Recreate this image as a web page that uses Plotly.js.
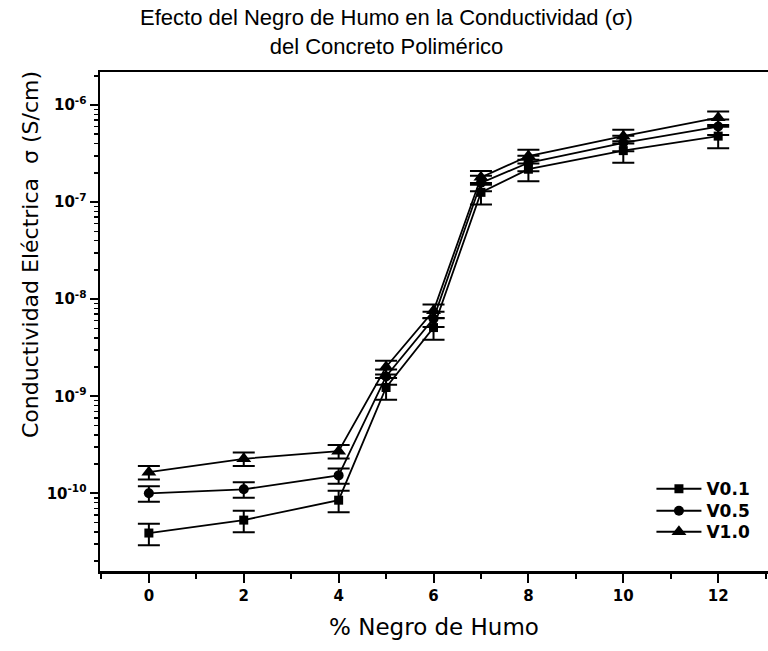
<!DOCTYPE html>
<html>
<head>
<meta charset="utf-8">
<script src="https://cdn.plot.ly/plotly-3.0.1.min.js"></script>
<style>html,body{margin:0;padding:0;background:#fff}#chart{width:768px;height:651px}</style>
</head>
<body>
<div id="chart"></div>
<script>
// % Negro de Humo
const negroHumo = [0, 2, 4, 5, 6, 7, 8, 10, 12];
// Conductividad (S/cm)
const v01 = [3.9e-11, 5.3e-11, 8.5e-11, 1.23e-9, 5.1e-9, 1.26e-7, 2.18e-7, 3.39e-7, 4.78e-7];
const v05 = [1.0e-10, 1.1e-10, 1.53e-10, 1.6e-9, 6.3e-9, 1.58e-7, 2.54e-7, 4.08e-7, 6.0e-7];
const v10 = [1.65e-10, 2.27e-10, 2.72e-10, 2.0e-9, 7.6e-9, 1.8e-7, 2.98e-7, 4.78e-7, 7.4e-7];
// error (% of value)
const errPct = [25, 18, 16];
const seriesNames = ['V0.1', 'V0.5', 'V1.0'];
const yTickVals = [1e-10, 1e-9, 1e-8, 1e-7, 1e-6];
const yTickText = ['10<sup>-10</sup>', '10<sup>-9</sup>', '10<sup>-8</sup>', '10<sup>-7</sup>', '10<sup>-6</sup>'];

const symbols = ['square', 'circle', 'triangle-up'];
const sizes = [9, 10, 13];
const legendIds = ['legend', 'legend2', 'legend3'];
const ys = [v01, v05, v10];

const traces = ys.map((y, i) => ({
  x: negroHumo, y: y, name: seriesNames[i], type: 'scatter', mode: 'lines+markers',
  legend: legendIds[i],
  line: {color: '#000', width: 1.8},
  marker: {symbol: symbols[i], size: sizes[i], color: '#000'},
  error_y: {type: 'percent', value: errPct[i], color: '#000', thickness: 2, width: 11}
}));

const font = 'DejaVu Sans, Verdana, sans-serif';
const lfont = {size: 17, family: font, color: '#000', weight: 'bold'};
const mkLegend = (yy) => ({x: 0.8255, xanchor: 'left', y: yy, yanchor: 'top', bgcolor: 'rgba(0,0,0,0)',
  font: lfont, itemwidth: 45});
const layout = {
  width: 768, height: 651,
  margin: {l: 100, r: 0, t: 72, b: 80},
  paper_bgcolor: '#fff', plot_bgcolor: '#fff',
  font: {family: font, color: '#000'},
  showlegend: true,
  legend: mkLegend(0.2),
  legend2: mkLegend(0.2 - 22 / 499),
  legend3: mkLegend(0.2 - 43 / 499),
  xaxis: {
    range: [-1.03, 13.05], showgrid: false, zeroline: false,
    showline: true, linecolor: '#000', linewidth: 2.5, mirror: true,
    ticks: 'outside', ticklen: 9, tickwidth: 2, tickcolor: '#000',
    tick0: 0, dtick: 2,
    minor: {ticks: 'outside', ticklen: 5, tickwidth: 2, tickcolor: '#000', dtick: 1, showgrid: false},
    tickfont: {size: 15, family: font, color: '#000', weight: 'bold'},
    title: {text: '% Negro de Humo', font: {size: 23, family: font, color: '#000'}, standoff: 16}
  },
  yaxis: {
    type: 'log', range: [-10.8, -5.66], showgrid: false, zeroline: false,
    showline: true, linecolor: '#000', linewidth: 2.5, mirror: true,
    ticks: 'outside', ticklen: 8, tickwidth: 2, tickcolor: '#000',
    tickvals: yTickVals, ticktext: yTickText,
    minor: {ticks: 'outside', ticklen: 4, tickwidth: 1.5, tickcolor: '#000', dtick: 'D1', showgrid: false},
    tickfont: {size: 15, family: font, color: '#000', weight: 'bold'}
  },
  annotations: [{
    text: 'Efecto del Negro de Humo en la Conductividad (σ)<br>del Concreto Polimérico',
    xref: 'paper', yref: 'paper', x: (386 - 100) / 668, y: (571 - 32) / 499,
    xanchor: 'center', yanchor: 'middle', showarrow: false,
    font: {size: 22, family: 'Liberation Sans, Arial, sans-serif', color: '#000'}
  }, {
    text: 'Conductividad Eléctrica  σ (S/cm)', xref: 'paper', yref: 'paper',
    x: -0.105, y: 0.635, xanchor: 'center', yanchor: 'middle', textangle: -90,
    showarrow: false, font: {size: 22, family: font, color: '#000'}
  }]
};

Plotly.newPlot('chart', traces, layout, {displayModeBar: false, staticPlot: true});
</script>
</body>
</html>
